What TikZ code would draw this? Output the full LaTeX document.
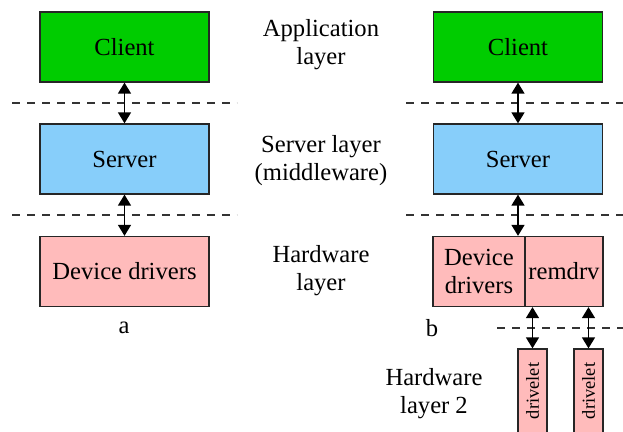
\documentclass[tikz,border=0pt]{standalone}
\usepackage{fontspec}
\setmainfont{Liberation Serif}
\usetikzlibrary{arrows.meta, positioning}

\definecolor{clientgreen}{RGB}{0,204,0}
\definecolor{serverblue}{RGB}{135,206,250}
\definecolor{driverpink}{RGB}{255,187,187}

\begin{document}
\begin{tikzpicture}[
    x=0.5pt, y=-0.5pt,
    every node/.style={font=\fontsize{12.3}{14}\selectfont},
    layerbox/.style={rectangle, draw=black!85, line width=0.65pt, minimum width=84.5pt, minimum height=35pt, inner sep=0pt},
    client/.style={layerbox, fill=clientgreen},
    server/.style={layerbox, fill=serverblue},
    driver/.style={layerbox, fill=driverpink, align=center},
    drivelet/.style={rectangle, draw=black!85, line width=0.65pt, fill=driverpink, rotate=90, minimum width=42pt, minimum height=14.5pt, inner sep=0pt, font=\fontsize{9.2}{11}\selectfont},
    layerlabel/.style={align=center},
    dbl/.style={{Triangle[length=5.5pt,width=6.5pt]}-{Triangle[length=5.5pt,width=6.5pt]}, line width=0.75pt},
    separator/.style={dashed, dash pattern=on 4pt off 3.5pt, line width=0.65pt, black!80}
]
\clip (0,0) rectangle (623,432);

% Column a
\node[client] (client1) at (124.5,47) {Client};
\node[server] (server1) at (124.5,159) {Server};
\node[driver] (drivers1) at (124.5,271.5) {Device drivers};
\node (labela) at (124,328) {a};

\draw[separator] (12,103) -- (237,103);
\draw[separator] (12,215) -- (237,215);

\draw[dbl] (client1) -- (server1);
\draw[dbl] (server1) -- (drivers1);

% Layer names
\node[layerlabel] (applayer) at (321,45) {Application\\layer};
\node[layerlabel] (srvlayer) at (321,161) {Server layer\\(middleware)};
\node[layerlabel] (hwlayer) at (321,271) {Hardware\\layer};
\node[layerlabel] (hwlayer2) at (434,394) {Hardware\\layer 2};

% Column b
\node[client] (client2) at (518,47) {Client};
\node[server] (server2) at (518,159) {Server};
\node[driver, minimum width=46pt] (devL) at (479,271.5) {Device\\drivers};
\node[driver, minimum width=39pt] (devR) at (564,271.5) {remdrv};
\node (labelb) at (432,328) {b};

\draw[separator] (406,103) -- (623,103);
\draw[separator] (406,215) -- (623,215);
\draw[separator] (497,328) -- (623,328);

\node[drivelet] (drv1) at (532.5,391) {drivelet};
\node[drivelet] (drv2) at (588.5,391) {drivelet};

\draw[dbl] (client2) -- (server2);
\draw[dbl] (server2) -- (server2 |- devL.north);
\draw[dbl] (devR.south -| drv1) -- (drv1);
\draw[dbl] (devR.south -| drv2) -- (drv2);

\end{tikzpicture}
\end{document}
